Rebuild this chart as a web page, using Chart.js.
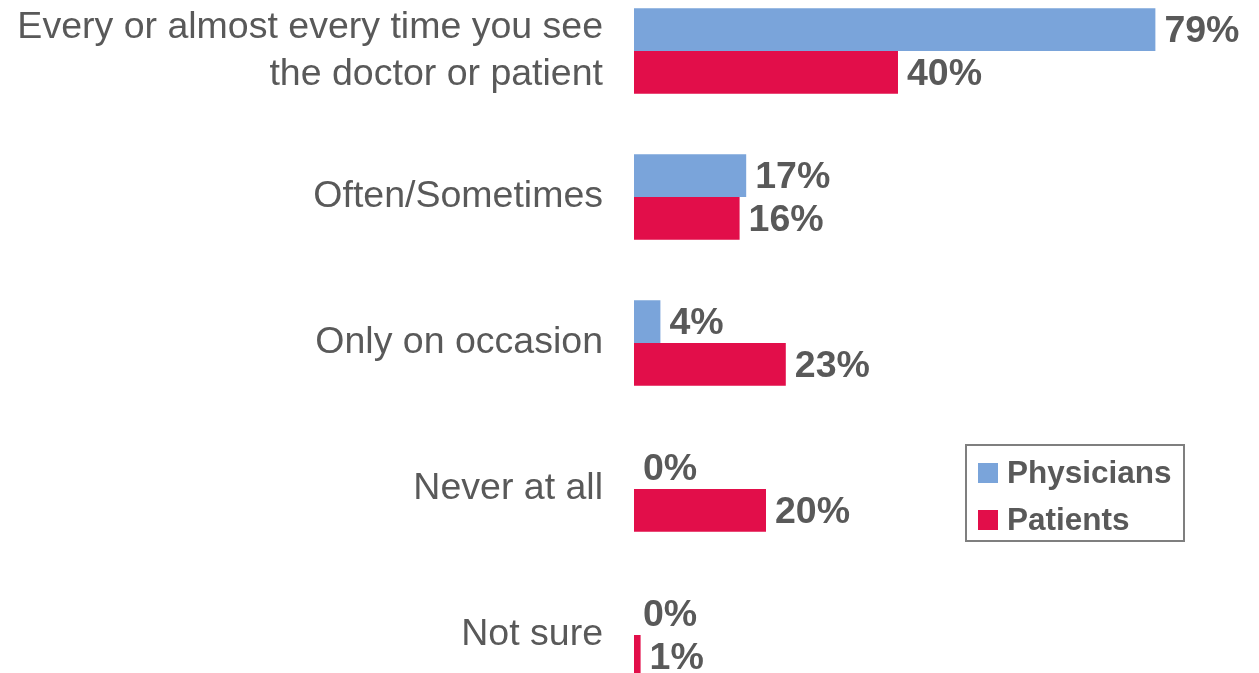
<!DOCTYPE html>
<html lang="en">
<head>
    <meta charset="UTF-8">
    <title>How often</title>
    <script src="https://cdn.jsdelivr.net/npm/chart.js"></script>
    <style>
        html, body { margin: 0; padding: 0; background: #fff; overflow: hidden; }
        body { width: 1259px; height: 673px; position: relative; }
        #chart { position: absolute; left: 0; top: -22px; }
    </style>
</head>
<body>
    <canvas id="chart" width="1259" height="730"></canvas>

    <script>
        const categories = [
            ['Every or almost every time you see', 'the doctor or patient'],
            'Often/Sometimes',
            'Only on occasion',
            'Never at all',
            'Not sure'
        ];
        const seriesNames = ['Physicians', 'Patients'];
        const physicians = [79, 17, 4, 0, 0];
        const patients = [40, 16, 23, 20, 1];

        const blue = '#7AA4DA';
        const red = '#E20E4A';
        const gray = '#595959';
        const font = "'Liberation Sans', Arial, sans-serif";

        // percentage text at the end of each bar
        const valueLabels = {
            id: 'valueLabels',
            afterDatasetsDraw(chart) {
                const ctx = chart.ctx;
                ctx.save();
                ctx.font = 'bold 37.5px ' + font;
                ctx.fillStyle = gray;
                ctx.textAlign = 'left';
                ctx.textBaseline = 'middle';
                chart.data.datasets.forEach((ds, di) => {
                    chart.getDatasetMeta(di).data.forEach((bar, i) => {
                        ctx.fillText(ds.data[i] + '%', bar.x + 9, bar.y + 2);
                    });
                });
                ctx.restore();
            }
        };

        // boxed legend sitting in the lower right of the plot
        const boxLegend = {
            id: 'boxLegend',
            afterDraw(chart) {
                const ctx = chart.ctx;
                const x = 966, y = 467, w = 218, h = 96;
                ctx.save();
                ctx.strokeStyle = '#7f7f7f';
                ctx.lineWidth = 2;
                ctx.strokeRect(x, y, w, h);
                ctx.font = 'bold 31.5px ' + font;
                ctx.textBaseline = 'middle';
                chart.data.datasets.forEach((ds, i) => {
                    const cy = y + 28 + i * 47;
                    ctx.fillStyle = ds.backgroundColor;
                    ctx.fillRect(x + 12, cy - 10, 20, 20);
                    ctx.fillStyle = gray;
                    ctx.fillText(ds.label, x + 41, cy + 1);
                });
                ctx.restore();
            }
        };

        new Chart(document.getElementById('chart').getContext('2d'), {
            type: 'bar',
            data: {
                labels: categories,
                datasets: [
                    { label: seriesNames[0], data: physicians, backgroundColor: blue },
                    { label: seriesNames[1], data: patients, backgroundColor: red }
                ]
            },
            options: {
                indexAxis: 'y',
                responsive: false,
                animation: false,
                layout: { padding: 0 },
                datasets: {
                    bar: { categoryPercentage: 0.585, barPercentage: 1, borderWidth: 0 }
                },
                scales: {
                    x: { display: false, min: 0, max: 94.7 },
                    y: {
                        grid: { display: false, drawTicks: false },
                        border: { display: false },
                        ticks: {
                            color: gray,
                            padding: 31,
                            font: { family: font, size: 37.5, lineHeight: 1.25 }
                        },
                        afterFit(scale) {
                            scale.width = 634;
                            // let the bands run the full canvas height
                            scale.paddingTop = 0;
                            scale.paddingBottom = 0;
                        }
                    }
                },
                plugins: {
                    legend: { display: false },
                    tooltip: { enabled: false }
                }
            },
            plugins: [valueLabels, boxLegend]
        });
    </script>
</body>
</html>
